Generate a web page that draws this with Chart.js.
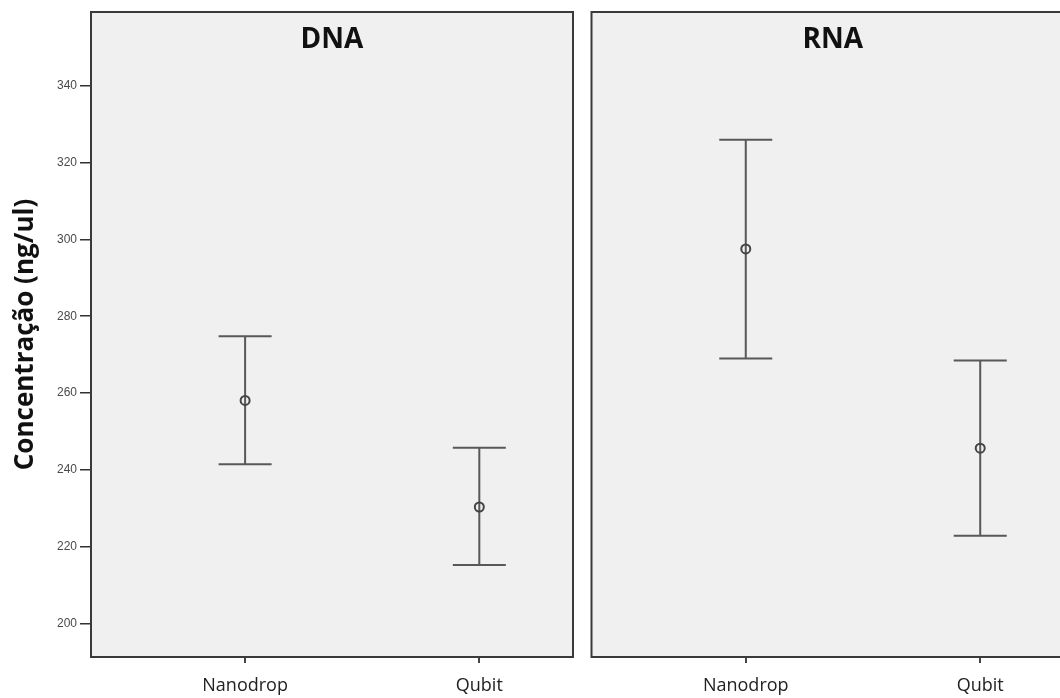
<!DOCTYPE html>
<html>
<head>
<meta charset="utf-8">
<script src="https://cdn.jsdelivr.net/npm/chart.js"></script>
<style>
  body { margin: 0; background: #fff; overflow: hidden; width: 1060px; height: 698px; position: relative; }
  .panel { position: absolute; top: 0; height: 698px; }
  #leftBox { left: 0; width: 580px; }
  #rightBox { left: 585px; width: 496px; }
</style>
</head>
<body>
<div class="panel" id="leftBox"><canvas id="dnaChart"></canvas></div>
<div class="panel" id="rightBox"><canvas id="rnaChart"></canvas></div>
<script>
// dados (média e intervalo)
const categories = ['Nanodrop', 'Qubit'];
const yTicks = [200, 220, 240, 260, 280, 300, 320, 340];

const dnaMean = [258.1, 230.4];
const dnaUpper = [274.8, 245.8];
const dnaLower = [241.5, 215.3];

const rnaMean = [297.5, 245.7];
const rnaUpper = [325.9, 268.5];
const rnaLower = [269.0, 222.9];

const yMin = 191.4;
const yMax = 359.1;

// fundo e moldura do painel + título interno
const panelPlugin = {
  id: 'panel',
  beforeDraw(chart, args, opts) {
    const { ctx, chartArea: a } = chart;
    ctx.save();
    ctx.fillStyle = '#f0f0f0';
    ctx.fillRect(a.left, a.top, a.right - a.left, a.bottom - a.top);
    ctx.restore();
  },
  afterDraw(chart, args, opts) {
    const { ctx, chartArea: a } = chart;
    ctx.save();
    ctx.strokeStyle = '#3a3a3a';
    ctx.lineWidth = 2;
    ctx.strokeRect(a.left, a.top, a.right - a.left, a.bottom - a.top);
    ctx.fillStyle = '#111';
    ctx.font = 'bold 28px "Open Sans"';
    ctx.textAlign = 'center';
    ctx.textBaseline = 'alphabetic';
    ctx.fillText(opts.text, (a.left + a.right) / 2, a.top + 35.5);
    ctx.restore();
  }
};

// barras de erro desenhadas pelas escalas
const errorBarPlugin = {
  id: 'errorBars',
  beforeDatasetsDraw(chart, args, opts) {
    const { ctx, scales: { x, y } } = chart;
    ctx.save();
    ctx.strokeStyle = '#585858';
    ctx.lineWidth = 2;
    opts.lower.forEach((lo, i) => {
      const px = x.getPixelForValue(i);
      const yTop = y.getPixelForValue(opts.upper[i]);
      const yBot = y.getPixelForValue(lo);
      ctx.beginPath();
      ctx.moveTo(px, yTop);
      ctx.lineTo(px, yBot);
      ctx.moveTo(px - 26.5, yTop);
      ctx.lineTo(px + 26.5, yTop);
      ctx.moveTo(px - 26.5, yBot);
      ctx.lineTo(px + 26.5, yBot);
      ctx.stroke();
    });
    ctx.restore();
  }
};

function makeChart(id, title, means, upper, lower, showY) {
  return new Chart(document.getElementById(id), {
    type: 'scatter',
    data: {
      datasets: [{
        data: means.map((v, i) => ({ x: i, y: v })),
        pointRadius: 4.5,
        pointBorderWidth: 2,
        pointBorderColor: '#444',
        pointBackgroundColor: 'rgba(0,0,0,0)'
      }]
    },
    options: {
      responsive: true,
      maintainAspectRatio: false,
      animation: false,
      layout: { padding: { top: 12, right: 7, left: showY ? 0 : 2, bottom: 0 } },
      plugins: {
        legend: { display: false },
        tooltip: { enabled: false },
        panel: { text: title },
        errorBars: { upper: upper, lower: lower }
      },
      scales: {
        x: {
          type: 'linear',
          min: -0.658,
          max: 1.4,
          afterBuildTicks: s => { s.ticks = categories.map((c, i) => ({ value: i })); },
          afterFit: s => { s.height = 41; },
          ticks: {
            callback: v => categories[v],
            color: '#222',
            font: { family: '"Open Sans"', size: 18 },
            padding: 12,
            maxRotation: 0
          },
          grid: { drawOnChartArea: false, tickLength: 6, color: '#444', lineWidth: 2 },
          border: { display: false }
        },
        y: {
          display: showY,
          min: yMin,
          max: yMax,
          afterBuildTicks: s => { s.ticks = yTicks.map(v => ({ value: v })); },
          afterFit: s => { s.width = showY ? 91 : 0; },
          ticks: {
            color: '#4a4a4a',
            font: { family: '"Liberation Sans"', size: 12 },
            padding: 3
          },
          grid: { drawOnChartArea: false, tickLength: 11, color: '#333', lineWidth: 1.5 },
          border: { display: false },
          title: {
            display: true,
            text: 'Concentração (ng/ul)',
            color: '#111',
            font: { family: '"Open Sans"', size: 26, weight: 'bold' },
            padding: { top: 9.5, bottom: 0 }
          }
        }
      }
    },
    plugins: [panelPlugin, errorBarPlugin]
  });
}

makeChart('dnaChart', 'DNA', dnaMean, dnaUpper, dnaLower, true);
makeChart('rnaChart', 'RNA', rnaMean, rnaUpper, rnaLower, false);
</script>
</body>
</html>
